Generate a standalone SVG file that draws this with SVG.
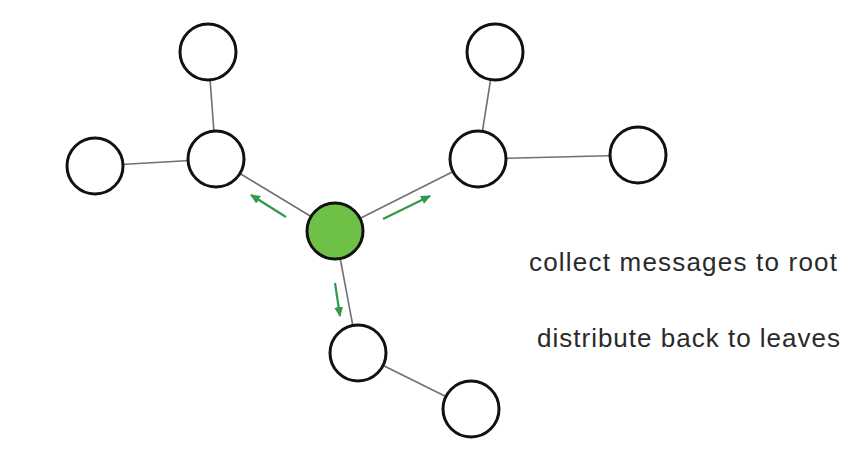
<svg xmlns="http://www.w3.org/2000/svg" width="867" height="459" viewBox="0 0 867 459">
  <defs>
    <marker id="ah" markerUnits="userSpaceOnUse" markerWidth="10" markerHeight="10" viewBox="0 0 10 10" refX="9" refY="5" orient="auto">
      <path d="M0,0.5 L10,5 L0,9.5 Z" fill="#2f9a4a"/>
    </marker>
    <style>
      .node { fill: #ffffff; stroke: #111111; stroke-width: 3; }
      .root { fill: #6fc046; stroke: #111111; stroke-width: 3; }
      .edge { stroke: #707070; stroke-width: 1.6; fill: none; }
      .msg { stroke: #2f9a4a; stroke-width: 2.2; fill: none; marker-end: url(#ah); }
      .lbl { font-family: "Liberation Sans", Arial, sans-serif; font-size: 26px; fill: #2a2a2a; }
    </style>
  </defs>
  <rect width="867" height="459" fill="#ffffff"/>
  <g id="connectors">
    <line class="edge" x1="208" y1="52" x2="216" y2="159"/>
    <line class="edge" x1="95" y1="166" x2="216" y2="159"/>
    <line class="edge" x1="216" y1="159" x2="335" y2="231"/>
    <line class="edge" x1="335" y1="231" x2="478" y2="159"/>
    <line class="edge" x1="495" y1="52" x2="478" y2="159"/>
    <line class="edge" x1="478" y1="159" x2="638" y2="155"/>
    <line class="edge" x1="335" y1="231" x2="358" y2="353"/>
    <line class="edge" x1="358" y1="353" x2="471" y2="409"/>
    <line class="msg" x1="286" y1="217" x2="251" y2="195"/>
    <line class="msg" x1="383" y1="219" x2="430" y2="196"/>
    <line class="msg" x1="335" y1="283" x2="340" y2="316"/>
  </g>
  <g id="n-top-left"><circle class="node" cx="208" cy="52" r="28"/></g>
  <g id="n-left"><circle class="node" cx="95" cy="166" r="28"/></g>
  <g id="n-mid-left"><circle class="node" cx="216" cy="159" r="28"/></g>
  <g id="n-top-right"><circle class="node" cx="495" cy="52" r="28"/></g>
  <g id="n-mid-right"><circle class="node" cx="478" cy="159" r="28"/></g>
  <g id="n-right"><circle class="node" cx="638" cy="155" r="28"/></g>
  <g id="n-root"><circle class="root" cx="335" cy="231" r="28"/></g>
  <g id="n-bottom"><circle class="node" cx="358" cy="353" r="28"/></g>
  <g id="n-bottom-right"><circle class="node" cx="471" cy="409" r="28"/></g>
  <g id="labels">
    <text class="lbl" x="529" y="271" textLength="308" lengthAdjust="spacing">collect messages to root</text>
    <text class="lbl" x="537" y="347" textLength="303" lengthAdjust="spacing">distribute back to leaves</text>
  </g>
</svg>
